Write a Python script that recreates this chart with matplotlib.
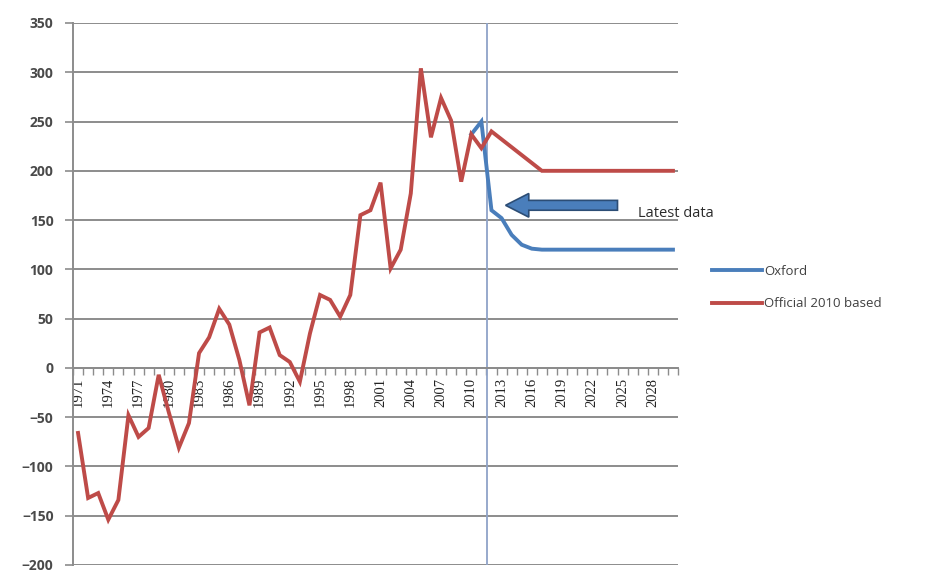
import matplotlib
matplotlib.use("Agg")
import matplotlib.pyplot as plt
from matplotlib.patches import FancyArrow
from matplotlib.ticker import FixedLocator

years = list(range(1971, 2031))

official = [-66, -132, -127, -154, -134, -48, -70, -61, -7, -45,
            -81, -56, 15, 31, 60, 44, 8, -38, 36, 41,
            13, 6, -14, 35, 74, 69, 52, 74, 155, 160,
            188, 101, 120, 177, 304, 234, 274, 251, 189, 237,
            223, 240, 232, 224, 216, 208, 200, 200, 200, 200,
            200, 200, 200, 200, 200, 200, 200, 200, 200, 200]

oxford_years = list(range(2010, 2031))
oxford = [237, 250, 160, 152, 135, 125, 121, 120, 120, 120,
          120, 120, 120, 120, 120, 120, 120, 120, 120, 120, 120]

yticks = [-200, -150, -100, -50, 0, 50, 100, 150, 200, 250, 300, 350]
xlabel_years = list(range(1971, 2029, 3))
latest_year = 2011.6
arrow_level = 165

RED = "#BE4B48"
BLUE = "#4A7EBB"

fig = plt.figure(figsize=(9.33, 5.71), dpi=100)
ax = fig.add_axes([73/933, 1-565/571, (678-73)/933, (565-23)/571])

def xi(y):
    return [v - years[0] for v in y] if isinstance(y, list) else y - years[0]

ax.set_xlim(-0.5, len(years) - 0.5)
ax.set_ylim(yticks[0], yticks[-1])

# grid
ax.set_yticks(yticks)
ax.yaxis.grid(True, color="#8c8c8c", linewidth=1.4, zorder=0)
ax.set_axisbelow(True)
for s in ["top", "right"]:
    ax.spines[s].set_visible(False)
ax.spines["left"].set_color("#8c8c8c")
ax.spines["left"].set_linewidth(1.4)
ax.spines["bottom"].set_position(("data", 0))
ax.spines["bottom"].set_color("#8c8c8c")
ax.spines["bottom"].set_linewidth(1.4)

ax.tick_params(axis="y", direction="out", length=6, width=1.2, color="#8c8c8c",
               labelsize=10, labelcolor="#4a4a4a", pad=8)
for t in ax.get_yticklabels():
    t.set_fontweight("bold")
    t.set_family("Open Sans")

# x ticks: labels at categories, tick marks at boundaries
ax.xaxis.set_major_locator(FixedLocator(xi(xlabel_years)))
ax.set_xticklabels([str(y) for y in xlabel_years], rotation=90,
                   fontsize=10.5, family="Liberation Serif",
                   color="#222222")
ax.xaxis.set_minor_locator(FixedLocator([i + 0.5 for i in range(-1, len(years))]))
ax.tick_params(axis="x", which="major", length=0, pad=7)
ax.tick_params(axis="x", which="minor", direction="out", length=5, width=1.0, color="#8c8c8c")

# vertical marker line
ax.axvline(xi(latest_year), color="#8FA3C8", linewidth=1.3, zorder=1)

# series
ax.plot(xi(oxford_years), oxford, color=BLUE, linewidth=2.8, label="Oxford", zorder=3,
        solid_joinstyle="miter")
ax.plot(xi(years), official, color=RED, linewidth=2.8, label="Official 2010 based", zorder=4,
        solid_joinstyle="miter")

# arrow
ax.add_patch(FancyArrow(53.5, arrow_level, -11.1, 0, width=10, head_width=24,
                        head_length=2.3, length_includes_head=True,
                        facecolor="#4A7EBB", edgecolor="#2C4D75", linewidth=1.2, zorder=5))
ax.text(55.5, arrow_level - 8, "Latest data", fontsize=10.5, family="Open Sans",
        color="#2a2a2a", va="center", ha="left", clip_on=False)

handles, labels = ax.get_legend_handles_labels()
leg = fig.legend(handles, labels, loc="upper left",
                 bbox_to_anchor=(712/933, 1-265/571), frameon=False,
                 borderpad=0, borderaxespad=0, handlelength=3.8, handletextpad=0.15,
                 labelspacing=1.45, prop={"family": "Open Sans", "size": 9.5})
for t in leg.get_texts():
    t.set_color("#404040")

fig.savefig("out.png", dpi=100)
